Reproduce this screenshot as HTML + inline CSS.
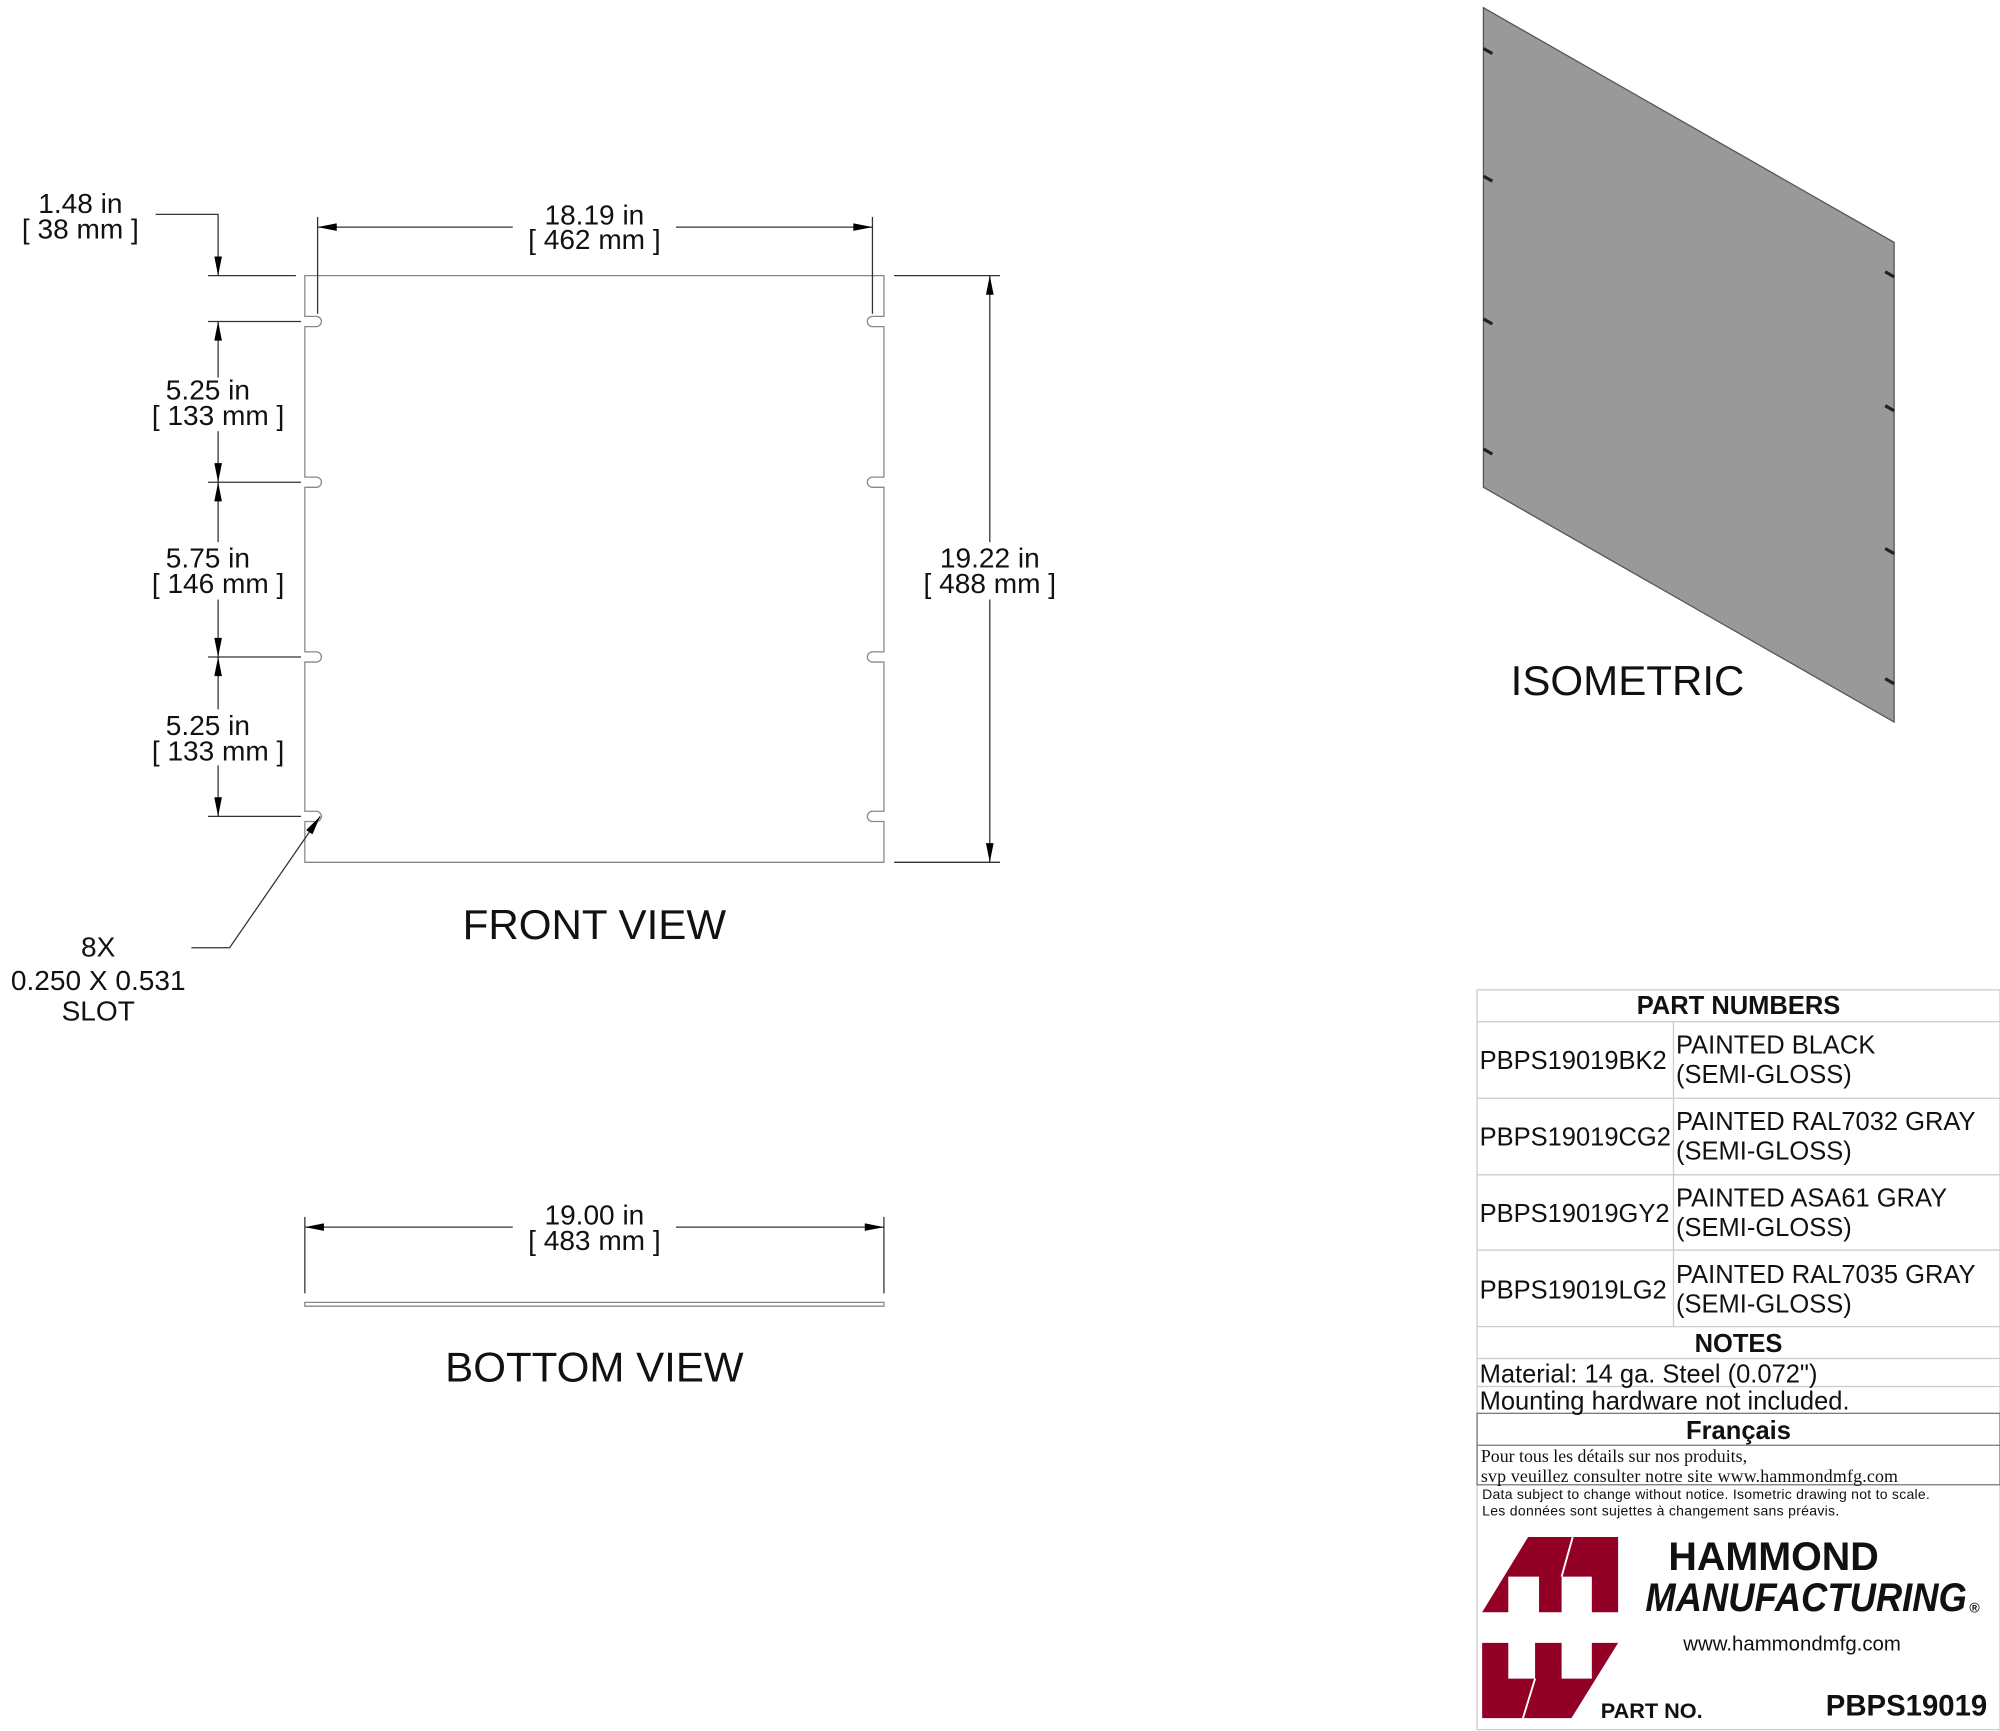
<!DOCTYPE html>
<html><head><meta charset="utf-8"><style>html,body{margin:0;padding:0;background:#fff}svg{display:block}text{font-family:"Liberation Sans",sans-serif;fill:#111}</style></head><body>
<svg width="2000" height="1731" viewBox="0 0 1568 1357" xmlns="http://www.w3.org/2000/svg">
<defs><marker id="a" viewBox="0 0 10 4" refX="10" refY="2" markerWidth="18" markerHeight="6" markerUnits="userSpaceOnUse" orient="auto-start-reverse"><path d="M0,0L10,2L0,4z" fill="#000"/></marker></defs>
<g fill="none" stroke="#888" stroke-width="1">
<path d="M239,216 H693 V248 h-9 a4,4 0 0 0 0,8 h9 V374 h-9 a4,4 0 0 0 0,8 h9 V511 h-9 a4,4 0 0 0 0,8 h9 V636 h-9 a4,4 0 0 0 0,8 h9 V676 H239 V644 h9 a4,4 0 0 0 0,-8 h-9 V519 h9 a4,4 0 0 0 0,-8 h-9 V382 h9 a4,4 0 0 0 0,-8 h-9 V256 h9 a4,4 0 0 0 0,-8 h-9 Z"/>
<path d="M239,1021 H693 V1024 H239 Z"/>
</g>
<g stroke="#333" stroke-width="1" fill="none">
<line x1="249" y1="170" x2="249" y2="246"/><line x1="684" y1="170" x2="684" y2="246"/>
<line x1="249" y1="178" x2="402" y2="178" marker-start="url(#a)"/><line x1="530" y1="178" x2="684" y2="178" marker-end="url(#a)"/>
<line x1="163" y1="216" x2="232" y2="216"/><line x1="163" y1="252" x2="236" y2="252"/><line x1="163" y1="378" x2="236" y2="378"/><line x1="163" y1="515" x2="236" y2="515"/><line x1="163" y1="640" x2="236" y2="640"/>
<polyline points="122,168 171,168 171,216" marker-end="url(#a)"/>
<line x1="171" y1="296" x2="171" y2="252" marker-end="url(#a)"/>
<line x1="171" y1="338" x2="171" y2="378" marker-end="url(#a)"/>
<line x1="171" y1="425" x2="171" y2="378" marker-end="url(#a)"/>
<line x1="171" y1="470" x2="171" y2="515" marker-end="url(#a)"/>
<line x1="171" y1="556" x2="171" y2="515" marker-end="url(#a)"/>
<line x1="171" y1="600" x2="171" y2="640" marker-end="url(#a)"/>
<line x1="701" y1="216" x2="784" y2="216"/><line x1="701" y1="676" x2="784" y2="676"/>
<line x1="776" y1="425" x2="776" y2="216" marker-end="url(#a)"/><line x1="776" y1="470" x2="776" y2="676" marker-end="url(#a)"/>
<polyline points="150,743 180,743 251,640" marker-end="url(#a)"/>
<line x1="239" y1="954" x2="239" y2="1014"/><line x1="693" y1="954" x2="693" y2="1014"/>
<line x1="239" y1="962" x2="402" y2="962" marker-start="url(#a)"/><line x1="530" y1="962" x2="693" y2="962" marker-end="url(#a)"/>
</g>
<g font-size="22" text-anchor="middle">
<text x="466" y="176">18.19 in</text><text x="466" y="195">[ 462 mm ]</text>
<text x="63" y="167">1.48 in</text><text x="63" y="187">[ 38 mm ]</text>
<text x="163" y="313">5.25 in</text><text x="171" y="333">[ 133 mm ]</text>
<text x="163" y="445">5.75 in</text><text x="171" y="465">[ 146 mm ]</text>
<text x="163" y="576">5.25 in</text><text x="171" y="596">[ 133 mm ]</text>
<text x="776" y="445">19.22 in</text><text x="776" y="465">[ 488 mm ]</text>
<text x="77" y="750">8X</text><text x="77" y="776">0.250 X 0.531</text><text x="77" y="800">SLOT</text>
<text x="466" y="960">19.00 in</text><text x="466" y="980">[ 483 mm ]</text>
<text x="466" y="736" font-size="33">FRONT VIEW</text>
<text x="466" y="1083" font-size="33">BOTTOM VIEW</text>
<text x="1276" y="545" font-size="33">ISOMETRIC</text>
</g>
<polygon points="1163,6 1485,190 1485,566 1163,382" fill="#999" stroke="#555"/>
<g stroke="#222" stroke-width="2.5"><line x1="1163" y1="38" x2="1170" y2="42"/><line x1="1163" y1="138" x2="1170" y2="142"/><line x1="1163" y1="250" x2="1170" y2="254"/><line x1="1163" y1="352" x2="1170" y2="356"/><line x1="1478" y1="213" x2="1485" y2="217"/><line x1="1478" y1="318" x2="1485" y2="322"/><line x1="1478" y1="430" x2="1485" y2="434"/><line x1="1478" y1="532" x2="1485" y2="536"/></g>
<g stroke="#ccc" fill="none"><rect x="1158" y="776" width="410" height="580"/>
<line x1="1158" y1="801" x2="1568" y2="801"/><line x1="1158" y1="861" x2="1568" y2="861"/><line x1="1158" y1="921" x2="1568" y2="921"/><line x1="1158" y1="980" x2="1568" y2="980"/><line x1="1158" y1="1040" x2="1568" y2="1040"/><line x1="1158" y1="1065" x2="1568" y2="1065"/><line x1="1158" y1="1087" x2="1568" y2="1087"/><line x1="1312" y1="801" x2="1312" y2="1040"/></g>
<g stroke="#777" fill="none"><rect x="1158" y="1108" width="410" height="56"/><line x1="1158" y1="1133" x2="1568" y2="1133"/></g>
<g font-size="20">
<text x="1363" y="795" text-anchor="middle" font-weight="bold">PART NUMBERS</text>
<text x="1160" y="838">PBPS19019BK2</text><text x="1314" y="826">PAINTED BLACK</text><text x="1314" y="849">(SEMI-GLOSS)</text>
<text x="1160" y="898">PBPS19019CG2</text><text x="1314" y="886">PAINTED RAL7032 GRAY</text><text x="1314" y="909">(SEMI-GLOSS)</text>
<text x="1160" y="958">PBPS19019GY2</text><text x="1314" y="946">PAINTED ASA61 GRAY</text><text x="1314" y="969">(SEMI-GLOSS)</text>
<text x="1160" y="1018">PBPS19019LG2</text><text x="1314" y="1006">PAINTED RAL7035 GRAY</text><text x="1314" y="1029">(SEMI-GLOSS)</text>
<text x="1363" y="1060" text-anchor="middle" font-weight="bold">NOTES</text>
<text x="1160" y="1084">Material: 14 ga. Steel (0.072")</text>
<text x="1160" y="1105">Mounting hardware not included.</text>
<text x="1363" y="1128" text-anchor="middle" font-weight="bold">Français</text>
</g>
<g font-size="14"><text x="1161" y="1146" style="font-family:'Liberation Serif',serif">Pour tous les détails sur nos produits,</text><text x="1161" y="1162" style="font-family:'Liberation Serif',serif" textLength="327">svp veuillez consulter notre site www.hammondmfg.com</text></g>
<g font-size="11"><text x="1162" y="1175" textLength="351">Data subject to change without notice. Isometric drawing not to scale.</text><text x="1162" y="1188" textLength="280">Les données sont sujettes à changement sans préavis.</text></g>
<g fill="#930025">
<polygon points="1162,1264 1198,1205 1268.6,1205 1268.6,1264 1248,1264 1248,1236 1224.3,1236 1224.3,1264 1206.6,1264 1206.6,1236 1182.5,1236 1182.5,1264"/>
<polygon points="1162,1288 1182.5,1288 1182.5,1316 1203.5,1316 1203.5,1288 1224.3,1288 1224.3,1316 1248,1316 1248,1288 1268.6,1288 1232,1347 1162,1347"/>
</g>
<g stroke="#fff" stroke-width="1.5"><line x1="1233" y1="1205" x2="1224.3" y2="1236"/><line x1="1203.5" y1="1316" x2="1194" y2="1347"/></g>
<g font-weight="bold"><text x="1308" y="1231" font-size="31" textLength="165" lengthAdjust="spacingAndGlyphs">HAMMOND</text><text x="1290" y="1263" font-size="31" font-style="italic" textLength="252" lengthAdjust="spacingAndGlyphs">MANUFACTURING</text><text x="1544" y="1264" font-size="11">®</text></g>
<text x="1405" y="1294" font-size="16" text-anchor="middle">www.hammondmfg.com</text>
<text x="1255" y="1347" font-size="17" font-weight="bold">PART NO.</text>
<text x="1558" y="1345" font-size="23" font-weight="bold" text-anchor="end">PBPS19019</text>
</svg>
</body></html>
